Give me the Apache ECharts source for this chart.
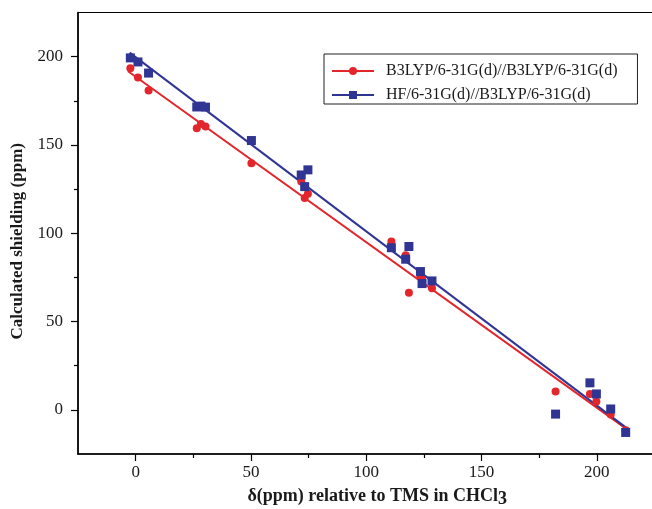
<!DOCTYPE html>
<html><head><meta charset="utf-8">
<script src="https://cdn.jsdelivr.net/npm/echarts@6/dist/echarts.min.js"></script>
<style>html,body{margin:0;padding:0;background:#fff}#c{width:652px;height:509px}</style>
</head><body><div id="c"></div>
<script>
// experimental shifts (ppm) relative to TMS in CHCl3
const expShift = [-2.3, 1.0, 5.6, 26.5, 28.3, 30.3, 50.2, 71.8, 73.3, 74.7, 110.9, 117.1, 118.5, 123.5, 124.2, 128.5, 182.1, 197.0, 199.8, 206.0, 212.5];
// calculated shieldings
const b3lypShield = [193.5, 188.2, 180.8, 159.5, 161.8, 160.4, 139.7, 129.3, 119.9, 122.3, 95.3, 87.5, 66.3, 75.5, 74.0, 68.9, 10.4, 9.0, 4.7, -2.6, -11.5];
const hfShield = [199.3, 197.0, 190.7, 171.5, 172.0, 171.4, 152.5, 133.0, 126.4, 135.9, 91.8, 85.3, 92.5, 78.3, 71.5, 73.0, -2.4, 15.3, 9.0, 0.5, -12.8];
// fitted regression lines (end points)
const b3lypFitX = [-3.3, 212.8];
const b3lypFitY = [191.7, -10.8];
const hfFitX = [-2.6, 212.8];
const hfFitY = [202.3, -10.2];
// ticks
const majorTicks = [0, 50, 100, 150, 200];
const minorTicks = [25, 75, 125, 175];
const seriesNames = ['B3LYP/6-31G(d)//B3LYP/6-31G(d)', 'HF/6-31G(d)//B3LYP/6-31G(d)'];

const RED = '#e3262b', BLUE = '#303594';
const FONT = '"Liberation Serif","Times New Roman",serif';
const zip = (a, b) => a.map((v, i) => [v, b[i]]);

function axisPair(isX) {
  const base = {
    type: 'value', min: -25, max: 225,
    position: isX ? 'bottom' : 'left',
    splitLine: { show: false }
  };
  const major = Object.assign({}, base, {
    axisLine: { show: true, onZero: false, lineStyle: { color: '#000', width: 1.5 } },
    axisTick: { show: true, length: 7, customValues: majorTicks, lineStyle: { color: '#000', width: 1.2 } },
    axisLabel: { customValues: majorTicks, fontFamily: FONT, fontSize: 17, color: '#1a1a1a', margin: isX ? 10 : 15 }
  });
  const minor = Object.assign({}, base, {
    axisLine: { show: false, onZero: false },
    axisTick: { show: true, length: 4, customValues: minorTicks, lineStyle: { color: '#000', width: 1.2 } },
    axisLabel: { show: false }
  });
  if (isX) {
    Object.assign(major, {
      name: 'δ(ppm) relative to TMS in CHCl{s|3}', nameLocation: 'middle', nameGap: 30,
      nameTextStyle: { fontFamily: FONT, fontSize: 18, fontWeight: 'bold', color: '#1a1a1a', padding: [0, 0, 0, 22],
        rich: { s: { fontFamily: FONT, fontSize: 18, fontWeight: 'bold', color: '#1a1a1a', padding: [6, 0, 0, 0] } } }
    });
  } else {
    Object.assign(major, {
      name: 'Calculated shielding (ppm)', nameLocation: 'middle', nameGap: 48,
      nameTextStyle: { fontFamily: FONT, fontSize: 17, fontWeight: 'bold', color: '#1a1a1a', padding: [0, 16, 0, 0] }
    });
  }
  return [major, minor];
}

const chart = echarts.init(document.getElementById('c'), null, { renderer: 'canvas' });
chart.setOption({
  animation: false,
  backgroundColor: '#fff',
  grid: { left: 78, right: -2.5, top: 12.5, bottom: 55, outerBoundsMode: 'none', containLabel: false,
    show: true, borderColor: '#000', borderWidth: 1.2, backgroundColor: 'transparent' },
  xAxis: axisPair(true),
  yAxis: axisPair(false),
  legend: {
    data: seriesNames,
    orient: 'vertical', left: 324, top: 54,
    itemWidth: 42, itemHeight: 10, itemGap: 8,
    padding: [9, 20, 1, 7],
    borderColor: '#222', borderWidth: 1,
    textStyle: { fontFamily: FONT, fontSize: 16, color: '#1a1a1a', lineHeight: 14, padding: [0, 0, 0, 7] }
  },
  series: [
    { name: seriesNames[0], type: 'line', data: zip(b3lypFitX, b3lypFitY), symbol: 'circle', showSymbol: false,
      itemStyle: { color: RED }, lineStyle: { color: RED, width: 2 }, z: 2 },
    { name: seriesNames[1], type: 'line', data: zip(hfFitX, hfFitY), symbol: 'rect', showSymbol: false,
      itemStyle: { color: BLUE }, lineStyle: { color: BLUE, width: 2 }, z: 2 },
    { name: seriesNames[0], type: 'scatter', data: zip(expShift, b3lypShield), symbol: 'circle', symbolSize: 8,
      itemStyle: { color: RED, opacity: 1 }, z: 3 },
    { name: seriesNames[1], type: 'scatter', data: zip(expShift, hfShield), symbol: 'rect', symbolSize: 9,
      itemStyle: { color: BLUE, opacity: 1 }, z: 4 }
  ]
});
</script></body></html>
